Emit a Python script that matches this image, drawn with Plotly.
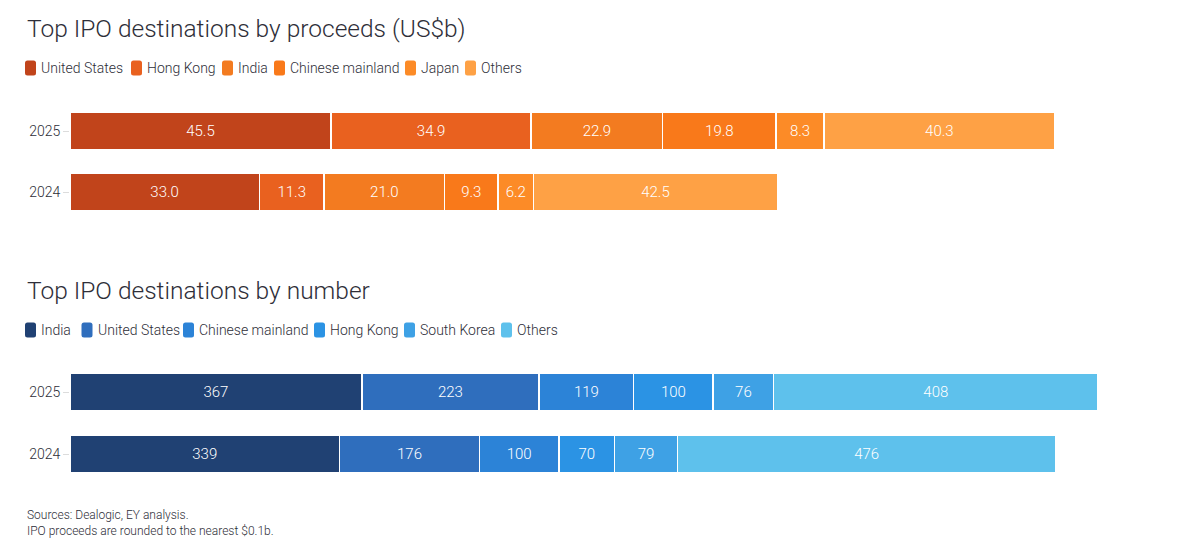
import plotly.graph_objects as go

W, H = 1200, 553

years = ["2025", "2024"]

proceeds_markets = ["United States", "Hong Kong", "India", "Chinese mainland", "Japan", "Others"]
proceeds_2025 = [45.5, 34.9, 22.9, 19.8, 8.3, 40.3]
proceeds_2024 = [33.0, 11.3, 21.0, 9.3, 6.2, 42.5]
proceeds_colors = ["#C1441B", "#E9611F", "#F37B20", "#F9791A", "#FC8B27", "#FEA145"]

number_markets = ["India", "United States", "Chinese mainland", "Hong Kong", "South Korea", "Others"]
number_2025 = [367, 223, 119, 100, 76, 408]
number_2024 = [339, 176, 100, 70, 79, 476]
number_colors = ["#204173", "#2F6EBD", "#2C83D7", "#2B93E4", "#3EA1E5", "#5EC1EC"]

FONT = "Roboto"
TXT = "#2E2E38"
WT = 300


def px(x):
    return x / W


def py(y):
    return 1 - y / H


fig = go.Figure()

for i, m in enumerate(proceeds_markets):
    fig.add_trace(go.Bar(
        y=years, x=[proceeds_2025[i], proceeds_2024[i]], orientation="h",
        name=m, marker=dict(color=proceeds_colors[i], line=dict(color="white", width=1.5)),
        texttemplate="%{x:.1f}", textposition="inside", insidetextanchor="middle",
        textangle=0, constraintext="none",
        textfont=dict(color="white", size=15, family=FONT, weight=WT),
        xaxis="x", yaxis="y", showlegend=False, hoverinfo="x+name",
    ))

for i, m in enumerate(number_markets):
    fig.add_trace(go.Bar(
        y=years, x=[number_2025[i], number_2024[i]], orientation="h",
        name=m, marker=dict(color=number_colors[i], line=dict(color="white", width=1.5)),
        texttemplate="%{x:d}", textposition="inside", insidetextanchor="middle",
        textangle=0, constraintext="none",
        textfont=dict(color="white", size=15, family=FONT, weight=WT),
        xaxis="x2", yaxis="y2", showlegend=False, hoverinfo="x+name",
    ))

x_dom = [px(70), 1.0]
axis_common_y = dict(type="category", range=[1.5, -0.5], showgrid=False, zeroline=False,
                     showline=False, ticks="outside", ticklen=6, tickcolor="#dcdcdc",
                     tickfont=dict(size=14, color=TXT, family=FONT, weight=WT))

fig.update_layout(
    width=W, height=H, margin=dict(l=0, r=0, t=0, b=0),
    paper_bgcolor="white", plot_bgcolor="white",
    barmode="stack", bargap=0.38,
    font=dict(family=FONT, color=TXT),
    xaxis=dict(domain=x_dom, range=[0, 1130 / (985 / 171.7)], visible=False, anchor="y"),
    yaxis=dict(domain=[py(222.5), py(100.5)], anchor="x", **axis_common_y),
    xaxis2=dict(domain=x_dom, range=[0, 1130 / (1028 / 1293)], visible=False, anchor="y2"),
    yaxis2=dict(domain=[py(485), py(361)], anchor="x2", **axis_common_y),
)

annotations = []
shapes = []

# Titles
annotations.append(dict(text="Top IPO destinations by proceeds (US$b)", x=px(25), y=py(29),
                        xref="paper", yref="paper", xanchor="left", yanchor="middle",
                        showarrow=False, font=dict(size=24.5, color=TXT, family=FONT, weight=WT)))
annotations.append(dict(text="Top IPO destinations by number", x=px(25), y=py(290),
                        xref="paper", yref="paper", xanchor="left", yanchor="middle",
                        showarrow=False, font=dict(size=24.5, color=TXT, family=FONT, weight=WT)))


def legend_row(labels, colors, xs, yc):
    for lab, col, x0 in zip(labels, colors, xs):
        w, h, r = 11, 15, 2.5
        x1 = x0 + w
        y0 = yc - h / 2
        y1 = yc + h / 2
        path = (f"M {px(x0 + r)} {py(y0)} L {px(x1 - r)} {py(y0)} "
                f"Q {px(x1)} {py(y0)} {px(x1)} {py(y0 + r)} L {px(x1)} {py(y1 - r)} "
                f"Q {px(x1)} {py(y1)} {px(x1 - r)} {py(y1)} L {px(x0 + r)} {py(y1)} "
                f"Q {px(x0)} {py(y1)} {px(x0)} {py(y1 - r)} L {px(x0)} {py(y0 + r)} "
                f"Q {px(x0)} {py(y0)} {px(x0 + r)} {py(y0)} Z")
        shapes.append(dict(type="path", path=path, xref="paper", yref="paper",
                           fillcolor=col, line=dict(width=0)))
        annotations.append(dict(text=lab, x=px(x0 + 14), y=py(yc), xref="paper", yref="paper",
                                xanchor="left", yanchor="middle", showarrow=False,
                                font=dict(size=14, color=TXT, family=FONT, weight=WT)))


legend_row(proceeds_markets, proceeds_colors, [25, 131, 222, 274, 405, 465], 68)
legend_row(number_markets, number_colors, [25, 81.5, 183, 314, 404, 501], 330)

annotations.append(dict(text="Sources: Dealogic, EY analysis.<br>IPO proceeds are rounded to the nearest $0.1b.",
                        x=px(25), y=py(523), xref="paper", yref="paper", xanchor="left",
                        yanchor="middle", align="left", showarrow=False,
                        font=dict(size=12, color=TXT, family=FONT, weight=WT)))

fig.update_layout(annotations=annotations, shapes=shapes)

fig.write_html("out.html")
